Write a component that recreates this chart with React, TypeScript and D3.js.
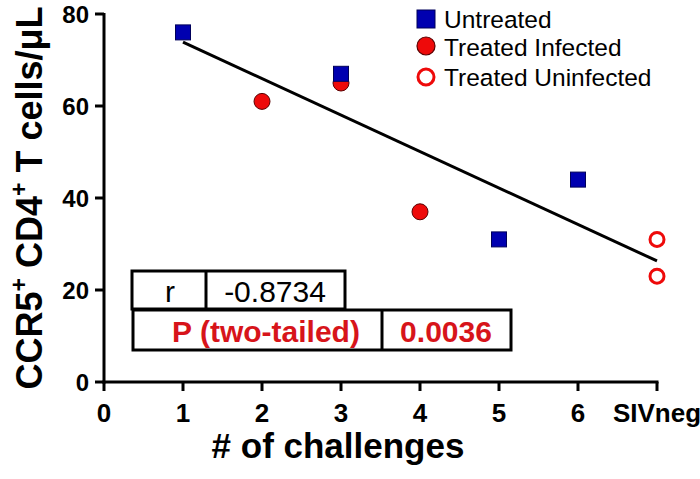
import * as d3 from 'd3';

// data
const xTickLabels = ['0', '1', '2', '3', '4', '5', '6', 'SIVneg'];
const yTicks = [0, 20, 40, 60, 80];

const untreatedX = [1, 3, 5, 6];
const untreatedY = [76, 67, 31, 44];

const infectedX = [2, 3, 4];
const infectedY = [61, 65, 37];

const uninfectedX = [7, 7]; // SIVneg column
const uninfectedY = [31, 23];

const legendLabels = ['Untreated', 'Treated Infected', 'Treated Uninfected'];
const statLabels = ['r', 'P (two-tailed)'];
const statValues = ['-0.8734', '0.0036'];

const W = 700;
const H = 479;
const font = 'Arial, "Liberation Sans", Helvetica, sans-serif';
const blue = '#0000b0';
const red = '#ee0a0a';
const statRed = '#d7141a';

export default function App() {
  const x = d3.scaleLinear().domain([0, 7]).range([104, 657]);
  const y = d3.scaleLinear().domain([0, 80]).range([382, 14]);

  // least squares line over all animals
  const allX = [...untreatedX, ...infectedX, ...uninfectedX];
  const allY = [...untreatedY, ...infectedY, ...uninfectedY];
  const mx = d3.mean(allX)!;
  const my = d3.mean(allY)!;
  const sxy = d3.sum(allX, (v, i) => (v - mx) * (allY[i] - my));
  const sxx = d3.sum(allX, (v) => (v - mx) ** 2);
  const slope = sxy / sxx;
  const fit = (v: number) => my + slope * (v - mx);
  const lineGen = d3
    .line<number>()
    .x((v) => x(v))
    .y((v) => y(fit(v)));
  const fitPath = lineGen([1, 7])!;

  const sq = 15;

  return (
    <div style={{ position: 'fixed', left: 0, top: 0 }}>
      <svg width={W} height={H} style={{ display: 'block', background: '#fff' }} fontFamily={font}>
        {/* axes */}
        <line x1={x(0)} x2={x(0)} y1={y(80) - 1} y2={y(0) + 1.5} stroke="#000" strokeWidth={3} />
        <line x1={x(0) - 1.5} x2={x(7) + 1.5} y1={y(0)} y2={y(0)} stroke="#000" strokeWidth={3} />
        {yTicks.map((t) => (
          <g key={'y' + t}>
            <line x1={x(0) - 9} x2={x(0)} y1={y(t)} y2={y(t)} stroke="#000" strokeWidth={3} />
            <text
              x={x(0) - 15}
              y={y(t)}
              textAnchor="end"
              dominantBaseline="central"
              fontSize={24}
              fontWeight="bold"
            >
              {t}
            </text>
          </g>
        ))}
        {xTickLabels.map((lab, i) => (
          <g key={'x' + i}>
            <line x1={x(i)} x2={x(i)} y1={y(0)} y2={y(0) + 9} stroke="#000" strokeWidth={3} />
            <text x={x(i)} y={422} textAnchor="middle" fontSize={26} fontWeight="bold">
              {lab}
            </text>
          </g>
        ))}

        {/* axis titles */}
        <text x={338} y={458} textAnchor="middle" fontSize={35} fontWeight="bold">
          # of challenges
        </text>
        <text
          transform={`translate(42,${(y(0) + y(80)) / 2}) rotate(-90)`}
          textAnchor="middle"
          fontSize={36}
          fontWeight="bold"
        >
          CCR5<tspan fontSize={23} dy={-15}>+</tspan>
          <tspan dy={15}> CD4</tspan>
          <tspan fontSize={23} dy={-15}>+</tspan>
          <tspan dy={15}> T cells/μL</tspan>
        </text>

        {/* regression line */}
        <path d={fitPath} stroke="#000" strokeWidth={3} fill="none" />

        {/* points */}
        {infectedX.map((v, i) => (
          <circle key={'i' + i} cx={x(v)} cy={y(infectedY[i])} r={8} fill={red} stroke="#5a0000" strokeWidth={1} />
        ))}
        {untreatedX.map((v, i) => (
          <rect
            key={'u' + i}
            x={x(v) - sq / 2}
            y={y(untreatedY[i]) - sq / 2}
            width={sq}
            height={sq}
            fill={blue}
            stroke="#00005a"
            strokeWidth={1}
          />
        ))}
        {uninfectedX.map((v, i) => (
          <circle key={'n' + i} cx={x(v)} cy={y(uninfectedY[i])} r={7} fill="#fff" stroke={red} strokeWidth={3} />
        ))}

        {/* legend */}
        <g>
          <rect x={417} y={10} width={18} height={18} fill={blue} stroke="#00005a" strokeWidth={1} />
          <circle cx={426} cy={46} r={9} fill={red} stroke="#5a0000" strokeWidth={1.2} />
          <circle cx={426} cy={77} r={8} fill="#fff" stroke={red} strokeWidth={3} />
          {legendLabels.map((lab, i) => (
            <text key={lab} x={444} y={[19, 47, 77][i]} dominantBaseline="central" fontSize={24.5}>
              {lab}
            </text>
          ))}
        </g>

        {/* stats table */}
        <g stroke="#000" strokeWidth={3} fill="none">
          <rect x={132} y={271} width={213} height={38} />
          <line x1={206} x2={206} y1={271} y2={309} />
          <rect x={133} y={310} width={378} height={40} />
          <line x1={382} x2={382} y1={310} y2={350} />
        </g>
        <text x={170} y={291} textAnchor="middle" dominantBaseline="central" fontSize={30}>
          {statLabels[0]}
        </text>
        <text x={275} y={291} textAnchor="middle" dominantBaseline="central" fontSize={30}>
          {statValues[0]}
        </text>
        <text x={266} y={331} textAnchor="middle" dominantBaseline="central" fontSize={30} fontWeight="bold" fill={statRed}>
          {statLabels[1]}
        </text>
        <text x={446} y={331} textAnchor="middle" dominantBaseline="central" fontSize={30} fontWeight="bold" fill={statRed}>
          {statValues[1]}
        </text>
      </svg>
    </div>
  );
}
